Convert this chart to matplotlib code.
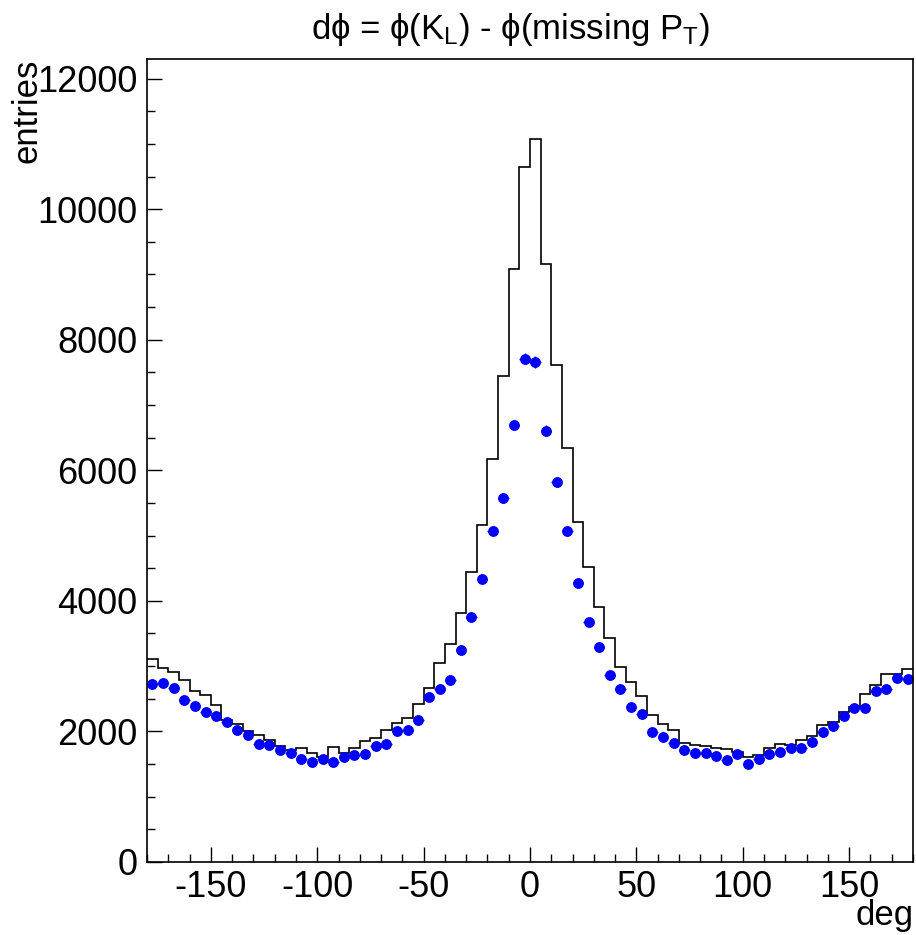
import numpy as np
import matplotlib.pyplot as plt
from matplotlib.ticker import MultipleLocator

plt.rcParams['font.family'] = ['Liberation Sans', 'DejaVu Sans']
plt.rcParams['mathtext.fontset'] = 'custom'
plt.rcParams['mathtext.rm'] = 'Liberation Sans'
plt.rcParams['mathtext.it'] = 'Liberation Sans:italic'
plt.rcParams['axes.unicode_minus'] = False

# bin edges in degrees (5 deg bins)
bin_edges = np.arange(-180, 181, 5)
bin_centers = bin_edges[:-1] + 2.5

# black histogram
hist_counts = [
    3106, 2968, 2917, 2789, 2626, 2554, 2401, 2181, 2115, 2008,
    1951, 1875, 1778, 1716, 1742, 1675, 1604, 1768, 1675, 1742,
    1849, 1906, 2023, 2125, 2202, 2416, 2662, 3045, 3341, 3811,
    4449, 5165, 6171, 7443, 9088, 10651, 11080, 9160, 7607, 6340,
    5206, 4526, 3913, 3428, 2993, 2754, 2549, 2250, 2120, 2023,
    1819, 1793, 1778, 1752, 1732, 1681, 1614, 1640, 1742, 1803,
    1793, 1870, 1936, 2100, 2151, 2304, 2381, 2570, 2713, 2876,
    2876, 2958,
]

# blue points
point_counts = [
    2728, 2743, 2662, 2483, 2396, 2299, 2233, 2146, 2028, 1941,
    1808, 1788, 1716, 1665, 1574, 1538, 1579, 1528, 1604, 1640,
    1655, 1783, 1808, 2013, 2018, 2175, 2534, 2646, 2789, 3249,
    3760, 4332, 5073, 5583, 6692, 7709, 7658, 6605, 5819, 5063,
    4281, 3673, 3300, 2866, 2651, 2381, 2268, 1997, 1920, 1819,
    1712, 1665, 1675, 1629, 1563, 1655, 1506, 1583, 1660, 1691,
    1752, 1752, 1844, 1997, 2084, 2242, 2355, 2365, 2626, 2656,
    2825, 2810,
]

fig = plt.figure(figsize=(9.16, 9.35), dpi=100)
ax = fig.add_axes([0.1605, 0.0781, 0.8362, 0.8588])

ax.stairs(hist_counts, bin_edges, color='black', linewidth=1.2, baseline=None)

pts = np.array(point_counts, dtype=float)
ax.errorbar(bin_centers, pts, xerr=2.5, yerr=np.sqrt(pts), fmt='o',
            color='#0000ff', markersize=6.8, elinewidth=1, capsize=0)

ax.set_xlim(-180, 180)
ax.set_ylim(0, 12300)

ax.xaxis.set_major_locator(MultipleLocator(50))
ax.xaxis.set_minor_locator(MultipleLocator(10))
ax.yaxis.set_major_locator(MultipleLocator(2000))
ax.yaxis.set_minor_locator(MultipleLocator(500))
ax.tick_params(which='both', direction='in', top=False, right=False,
               labelsize=26, width=1)
ax.tick_params(which='major', length=11)
ax.tick_params(which='minor', length=5.5)
ax.tick_params(axis='y', pad=7)
ax.tick_params(axis='x', pad=6)
for s in ax.spines.values():
    s.set_linewidth(1.2)

fig.text(0.557, 0.968,
         'd\u03d5 = \u03d5(K$_{\\rm L}$) - \u03d5(missing P$_{\\rm T}$)',
         ha='center', va='center', fontsize=25)
fig.text(0.030, 0.937, 'entries', rotation=90, ha='center', va='top',
         fontsize=25)
fig.text(0.997, 0.021, 'deg', ha='right', va='center', fontsize=25)

fig.savefig('out.png', dpi=100)
